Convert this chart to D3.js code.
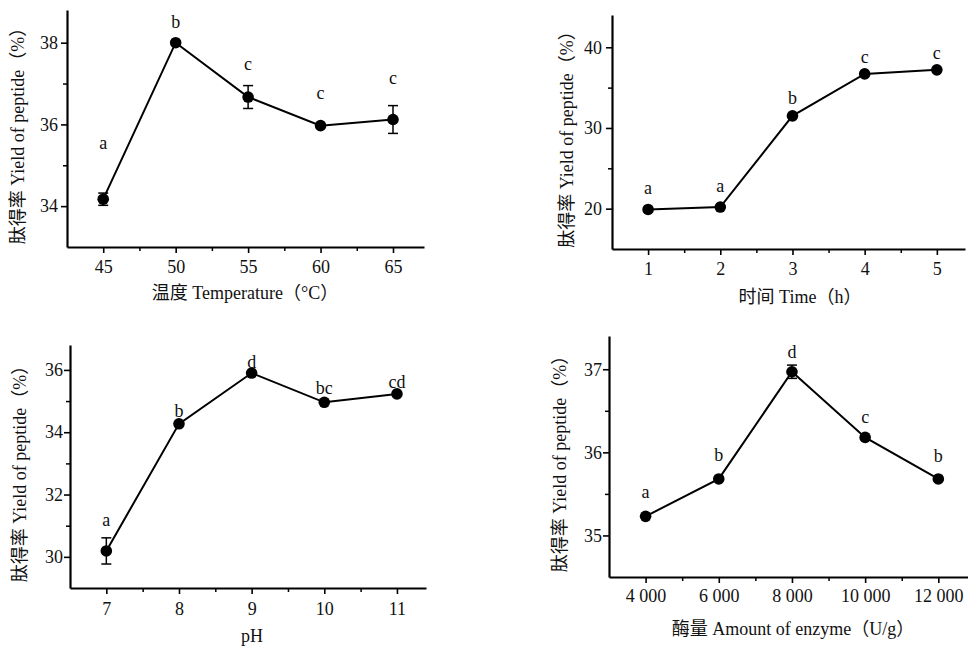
<!DOCTYPE html>
<html>
<head>
<meta charset="utf-8">
<script src="https://cdn.jsdelivr.net/npm/d3@7"></script>
<style>
  body { margin: 0; background: #fff; }
  svg text { font-family: "Liberation Serif", "Times New Roman", "Noto Sans CJK SC", serif; fill: #111; }
</style>
</head>
<body>
<svg id="chart" width="968" height="647"></svg>
<script>
// Temperature panel
var tempX = [45, 50, 55, 60, 65];
var tempY = [34.17, 38.0, 36.67, 35.97, 36.12];
var tempErr = [0.15, 0, 0.28, 0, 0.34];
var tempLetters = ["a", "b", "c", "c", "c"];
var tempLetterY = [35.41, 38.37, 37.32, 36.63, 36.99];
var tempTicks = [45, 50, 55, 60, 65];
var tempYTicks = [34, 36, 38];

// Time panel
var timeX = [1, 2, 3, 4, 5];
var timeY = [19.9, 20.2, 31.5, 36.7, 37.2];
var timeErr = [0, 0, 0, 0, 0];
var timeLetters = ["a", "a", "b", "c", "c"];
var timeLetterY = [21.84, 22.1, 32.95, 38.08, 38.49];
var timeTicks = [1, 2, 3, 4, 5];
var timeYTicks = [20, 30, 40];

// pH panel
var phX = [7, 8, 9, 10, 11];
var phY = [30.19, 34.27, 35.9, 34.96, 35.23];
var phErr = [0.42, 0, 0, 0, 0];
var phLetters = ["a", "b", "d", "bc", "cd"];
var phLetterY = [30.99, 34.49, 36.07, 35.22, 35.43];
var phTicks = [7, 8, 9, 10, 11];
var phYTicks = [30, 32, 34, 36];

// Enzyme amount panel
var enzX = [4000, 6000, 8000, 10000, 12000];
var enzY = [35.23, 35.68, 36.97, 36.18, 35.68];
var enzErr = [0, 0, 0.08, 0, 0];
var enzLetters = ["a", "b", "d", "c", "b"];
var enzLetterY = [35.45, 35.89, 37.13, 36.35, 35.88];
var enzTicks = [4000, 6000, 8000, 10000, 12000];
var enzYTicks = [35, 36, 37];

var yTitle = "肽得率 Yield of peptide（%）";
var fontSize = 18;

var svg = d3.select("#chart");

var panels = [
  { x: tempX, y: tempY, err: tempErr, letters: tempLetters, letterY: tempLetterY,
    ticks: tempTicks, yTicks: tempYTicks, xDomain: [42.5, 67.14], yDomain: [33, 38.8],
    box: { left: 67, right: 424, top: 10, bottom: 247 },
    xPad: 7, yPad: 3, title: "温度 Temperature（°C）", titleX: 245, titleY: 299,
    yTitleX: 24, fmt: d3.format("d") },
  { x: timeX, y: timeY, err: timeErr, letters: timeLetters, letterY: timeLetterY,
    ticks: timeTicks, yTicks: timeYTicks, xDomain: [0.5, 5.39], yDomain: [15, 44],
    box: { left: 612, right: 965, top: 15, bottom: 249 },
    xPad: 7, yPad: 4, title: "时间 Time（h）", titleX: 800, titleY: 303,
    yTitleX: 573, fmt: d3.format("d") },
  { x: phX, y: phY, err: phErr, letters: phLetters, letterY: phLetterY,
    ticks: phTicks, yTicks: phYTicks, xDomain: [6.5, 11.4], yDomain: [29, 36.8],
    box: { left: 70, right: 426, top: 345, bottom: 588 },
    xPad: 8, yPad: 1, title: "pH", titleX: 252, titleY: 642,
    yTitleX: 26, fmt: d3.format("d") },
  { x: enzX, y: enzY, err: enzErr, letters: enzLetters, letterY: enzLetterY,
    ticks: enzTicks, yTicks: enzYTicks, xDomain: [3000, 12811], yDomain: [34.5, 37.4],
    box: { left: 609, right: 968, top: 336, bottom: 577 },
    xPad: 6, yPad: 1, title: "酶量 Amount of enzyme（U/g）", titleX: 793, titleY: 635,
    yTitleX: 566, fmt: function (d) { return d3.format(",")(d).replace(/,/g, " "); } }
];

panels.forEach(function (p) {
  var b = p.box;
  var x = d3.scaleLinear().domain(p.xDomain).range([b.left, b.right]);
  var y = d3.scaleLinear().domain(p.yDomain).range([b.bottom, b.top]);
  var g = svg.append("g");

  // minor ticks halfway between majors
  var xStep = p.ticks[1] - p.ticks[0];
  var xMinor = p.ticks.map(function (t) { return t + xStep / 2; })
    .filter(function (t) { return t < p.xDomain[1]; });
  var yStep = p.yTicks[1] - p.yTicks[0];
  var yMinor = [p.yTicks[0] - yStep / 2].concat(p.yTicks.map(function (t) { return t + yStep / 2; }))
    .filter(function (t) { return t > p.yDomain[0] && t < p.yDomain[1]; });

  g.append("g")
    .attr("transform", "translate(0," + b.bottom + ")")
    .call(d3.axisBottom(x).tickValues(xMinor).tickSize(4).tickFormat(""))
    .call(function (a) { a.select(".domain").remove(); a.selectAll("line").attr("stroke-width", 1.5); });
  g.append("g")
    .attr("transform", "translate(" + b.left + ",0)")
    .call(d3.axisLeft(y).tickValues(yMinor).tickSize(4).tickFormat(""))
    .call(function (a) { a.select(".domain").remove(); a.selectAll("line").attr("stroke-width", 1.5); });

  var xa = g.append("g")
    .attr("transform", "translate(0," + b.bottom + ")")
    .call(d3.axisBottom(x).tickValues(p.ticks).tickSize(6).tickSizeOuter(0).tickPadding(p.xPad).tickFormat(p.fmt));
  var ya = g.append("g")
    .attr("transform", "translate(" + b.left + ",0)")
    .call(d3.axisLeft(y).tickValues(p.yTicks).tickSize(6).tickSizeOuter(0).tickPadding(p.yPad).tickFormat(d3.format("d")));

  [xa, ya].forEach(function (a) {
    a.select(".domain").attr("stroke", "#000").attr("stroke-width", 2.2);
    a.selectAll(".tick line").attr("stroke", "#000").attr("stroke-width", 1.6);
    a.selectAll(".tick text").attr("font-size", fontSize).attr("fill", "#111")
      .style("font-family", "'Liberation Serif', serif");
  });

  var pts = p.x.map(function (v, i) {
    return { x: v, y: p.y[i], e: p.err[i], l: p.letters[i], ly: p.letterY[i] };
  });

  // error bars
  var eb = g.selectAll(".err").data(pts.filter(function (d) { return d.e > 0; }))
    .enter().append("g").attr("stroke", "#000").attr("stroke-width", 1.5);
  eb.append("line")
    .attr("x1", function (d) { return x(d.x); }).attr("x2", function (d) { return x(d.x); })
    .attr("y1", function (d) { return y(d.y - d.e); }).attr("y2", function (d) { return y(d.y + d.e); });
  eb.append("line")
    .attr("x1", function (d) { return x(d.x) - 5; }).attr("x2", function (d) { return x(d.x) + 5; })
    .attr("y1", function (d) { return y(d.y + d.e); }).attr("y2", function (d) { return y(d.y + d.e); });
  eb.append("line")
    .attr("x1", function (d) { return x(d.x) - 5; }).attr("x2", function (d) { return x(d.x) + 5; })
    .attr("y1", function (d) { return y(d.y - d.e); }).attr("y2", function (d) { return y(d.y - d.e); });

  g.append("path")
    .datum(pts)
    .attr("fill", "none")
    .attr("stroke", "#000")
    .attr("stroke-width", 2)
    .attr("d", d3.line().x(function (d) { return x(d.x); }).y(function (d) { return y(d.y); }));

  g.selectAll(".dot").data(pts).enter().append("circle")
    .attr("cx", function (d) { return x(d.x); })
    .attr("cy", function (d) { return y(d.y); })
    .attr("r", 5.8)
    .attr("fill", "#000");

  g.selectAll(".sig").data(pts).enter().append("text")
    .attr("x", function (d) { return x(d.x); })
    .attr("y", function (d) { return y(d.ly); })
    .attr("text-anchor", "middle")
    .attr("font-size", fontSize)
    .text(function (d) { return d.l; });

  // axis titles
  g.append("text")
    .attr("x", p.titleX).attr("y", p.titleY)
    .attr("text-anchor", "middle")
    .attr("font-size", fontSize)
    .text(p.title);

  g.append("text")
    .attr("transform", "translate(" + p.yTitleX + "," + ((b.top + b.bottom) / 2 + 3) + ") rotate(-90)")
    .attr("text-anchor", "middle")
    .attr("font-size", fontSize)
    .attr("fill", "#333")
    .text(yTitle);
});
</script>
</body>
</html>
